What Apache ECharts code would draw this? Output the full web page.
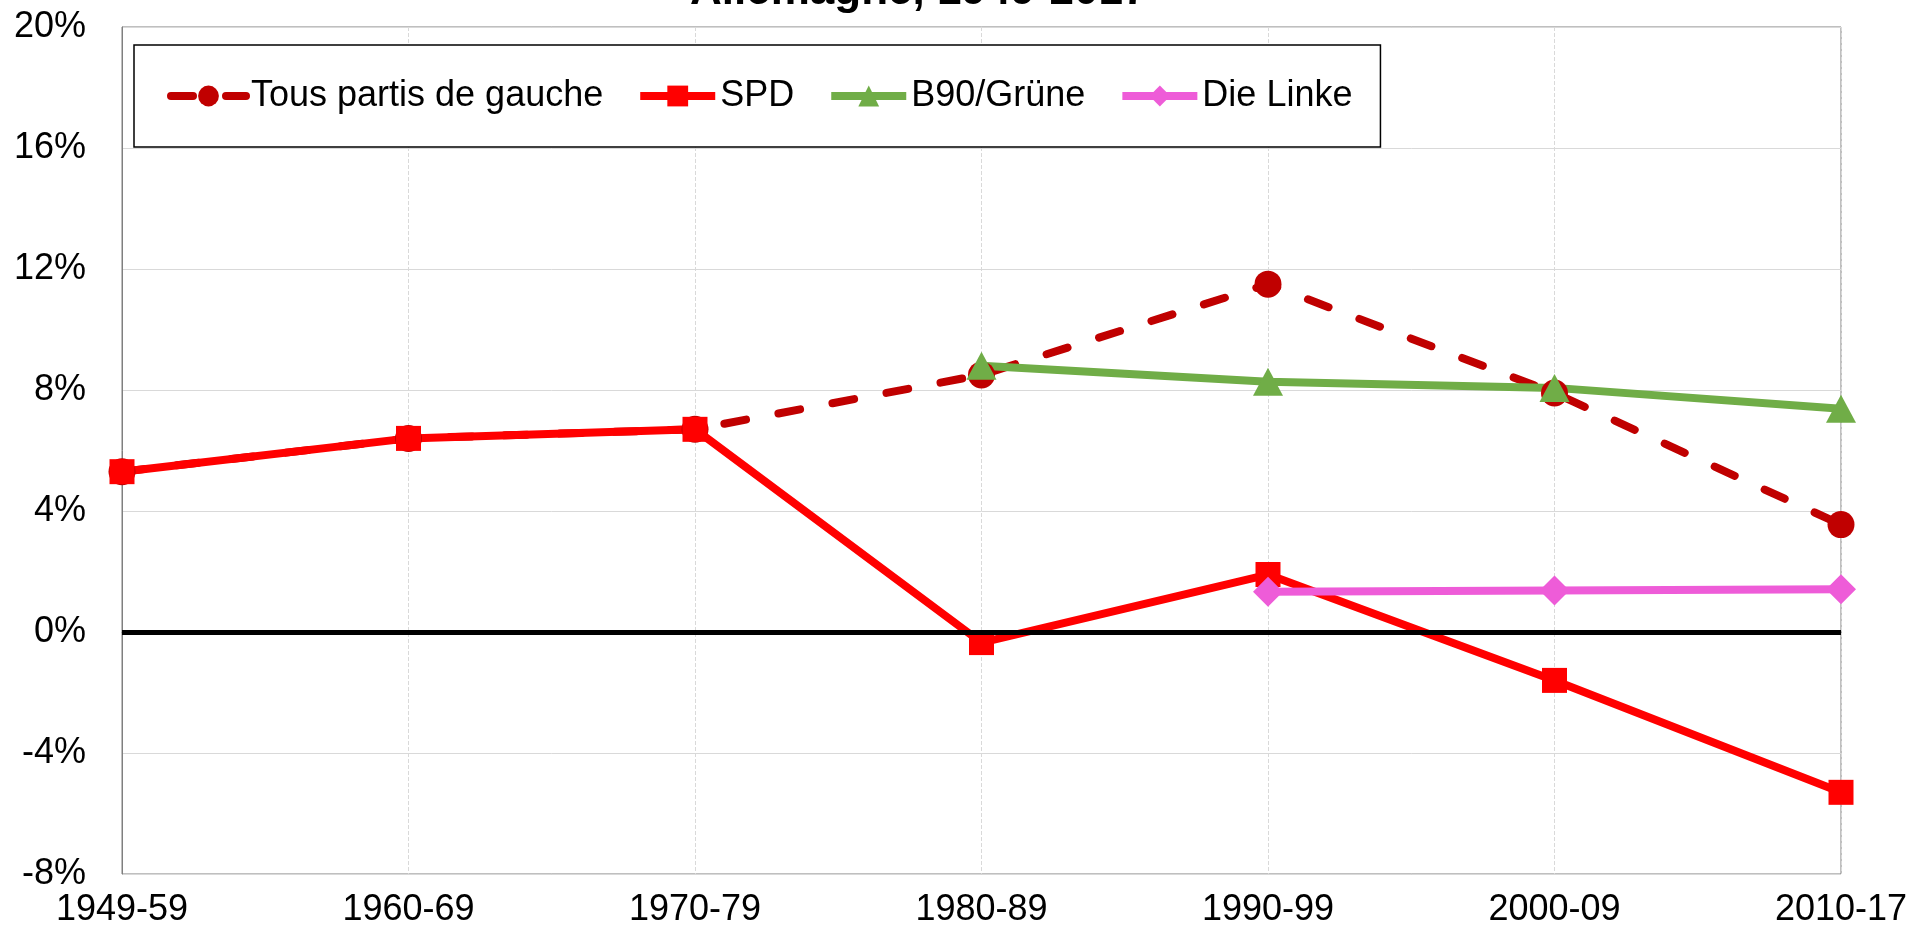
<!DOCTYPE html>
<html lang="fr">
<head>
    <meta charset="UTF-8">
    <title>Allemagne, 1949-2017</title>
    <script src="https://cdn.jsdelivr.net/npm/echarts@6/dist/echarts.min.js"></script>
    <style>
        * { margin: 0; padding: 0; }
        html, body { width: 100%; height: 100%; background: #fff; }
    </style>
</head>
<body>
    <div id="main" style="width: 1914px;height:935px;"></div>
<script>
    var periods = ['1949-59', '1960-69', '1970-79', '1980-89', '1990-99', '2000-09', '2010-17'];
    var tousGauche = [5.3, 6.4, 6.7, 8.5, 11.5, 7.9, 3.55];
    var spd = [5.3, 6.4, 6.7, -0.35, 1.9, -1.6, -5.3];
    var gruene = [null, null, null, 8.8, 8.27, 8.07, 7.38];
    var linke = [null, null, null, null, 1.33, 1.37, 1.41];
    var yTicks = { min: -8, max: 20, interval: 4 };

    var font = "'Liberation Sans', Arial, sans-serif";
    var myChart = echarts.init(document.getElementById('main'));

    myChart.setOption({
        animation: false,
        textStyle: { fontFamily: font },
        title: {
            text: 'Allemagne, 1949-2017',
            left: 690,
            top: -30,
            padding: 0,
            textStyle: { fontFamily: font, fontSize: 44, fontWeight: 'bold', color: '#000' }
        },
        legend: {
            left: 134,
            top: 45,
            padding: [33, 28, 33, 33],
            itemGap: 33,
            itemWidth: 75,
            itemHeight: 26,
            backgroundColor: '#fff',
            borderColor: '#000',
            borderWidth: 1.5,
            lineStyle: { width: 8 },
            textStyle: { fontFamily: font, fontSize: 36, color: '#000' },
            data: ['Tous partis de gauche', 'SPD', 'B90/Grüne', 'Die Linke']
        },
        grid: {
            left: 122,
            right: 73,
            top: 27,
            bottom: 61,
            show: true,
            borderColor: '#7f7f7f',
            borderWidth: 1
        },
        xAxis: {
            type: 'category',
            data: periods,
            boundaryGap: false,
            axisLine: { lineStyle: { color: '#7f7f7f', width: 1 } },
            axisTick: { show: false },
            axisLabel: { fontFamily: font, fontSize: 36, color: '#000', margin: 18 },
            splitLine: { show: true, lineStyle: { color: '#d9d9d9', type: 'dashed', width: 1 } }
        },
        yAxis: {
            type: 'value',
            min: yTicks.min,
            max: yTicks.max,
            interval: yTicks.interval,
            axisLine: { show: true, lineStyle: { color: '#7f7f7f', width: 1 } },
            axisTick: { show: false },
            axisLabel: { fontFamily: font, fontSize: 36, color: '#000', margin: 36, formatter: '{value}%' },
            splitLine: { lineStyle: { color: '#d9d9d9', width: 1 } }
        },
        series: [
            {
                name: 'Tous partis de gauche',
                type: 'line',
                data: tousGauche,
                symbol: 'circle',
                symbolSize: 27,
                showAllSymbol: true,
                itemStyle: { color: '#c00000' },
                lineStyle: { color: '#c00000', width: 8, type: [22, 33], cap: 'round' },
                markLine: {
                    silent: true,
                    symbol: 'none',
                    label: { show: false },
                    lineStyle: { color: '#000', width: 5, type: 'solid' },
                    data: [{ yAxis: 0 }]
                }
            },
            {
                name: 'SPD',
                type: 'line',
                data: spd,
                symbol: 'rect',
                symbolSize: 25,
                showAllSymbol: true,
                itemStyle: { color: '#ff0000' },
                lineStyle: { color: '#ff0000', width: 8 }
            },
            {
                name: 'B90/Grüne',
                type: 'line',
                data: gruene,
                symbol: 'triangle',
                symbolSize: [30, 28],
                showAllSymbol: true,
                itemStyle: { color: '#70ad47' },
                lineStyle: { color: '#70ad47', width: 8 }
            },
            {
                name: 'Die Linke',
                type: 'line',
                data: linke,
                symbol: 'diamond',
                symbolSize: [30, 30],
                showAllSymbol: true,
                itemStyle: { color: '#ee5cd8' },
                lineStyle: { color: '#ee5cd8', width: 8 }
            }
        ]
    });
</script>
</body>
</html>
